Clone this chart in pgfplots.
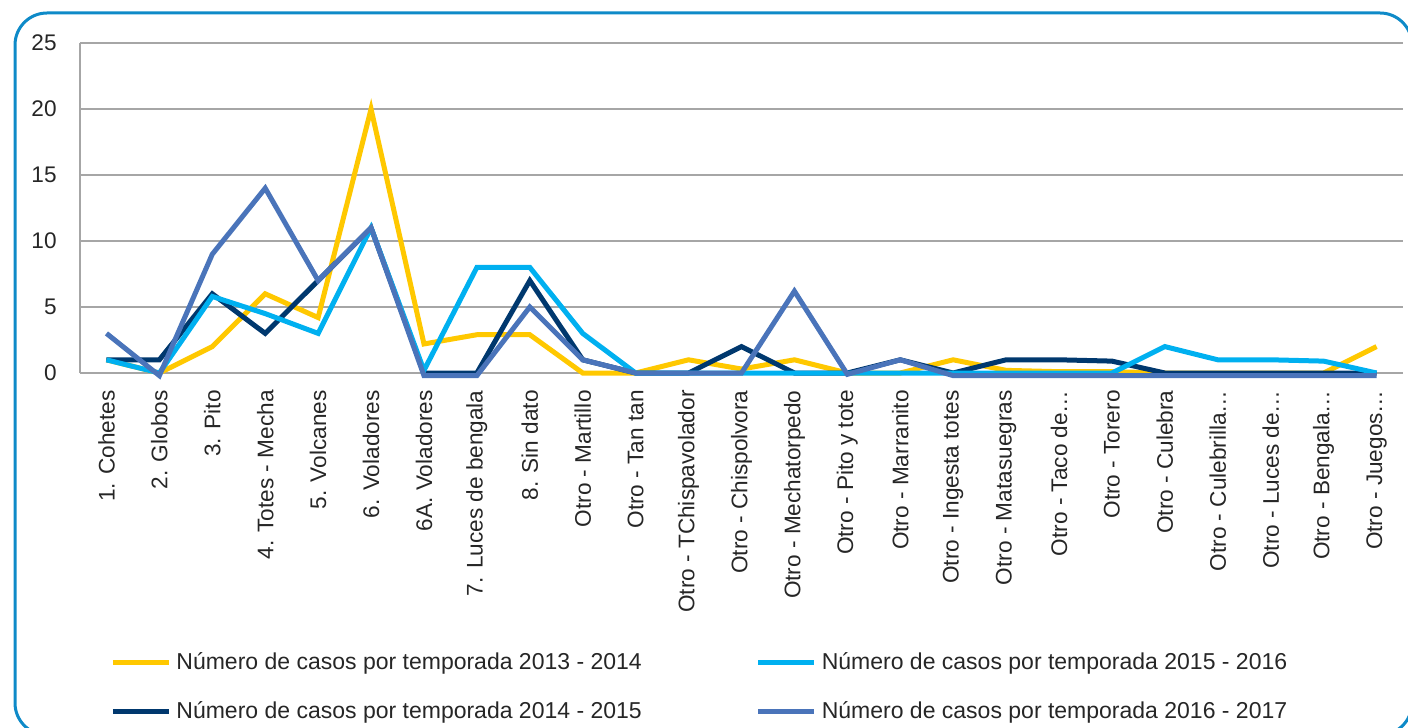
\documentclass[border=0pt]{standalone}
\usepackage{pgfplots}
\pgfplotsset{compat=1.18}
\usepackage{fontspec}
\setmainfont{Liberation Sans}
\definecolor{cYel}{RGB}{255,200,0}
\definecolor{cLight}{RGB}{0,176,240}
\definecolor{cNavy}{RGB}{0,56,110}
\definecolor{cSlate}{RGB}{74,116,186}
\definecolor{cFrame}{RGB}{14,138,200}
\definecolor{cGrid}{RGB}{166,166,166}
\begin{document}
\begin{tikzpicture}
\path[use as bounding box] (-40pt,-177.5pt) rectangle (664pt,186.5pt);
\draw[cFrame, line width=1.5pt, rounded corners=16pt] (-32.5pt,-181pt) rectangle (666pt,180pt);
\begin{axis}[
  scale only axis, width=661.5pt, height=165pt,
  xmin=-0.5, xmax=24.5, ymin=0, ymax=25,
  axis x line*=bottom, axis y line*=left,
  axis line style={cGrid, line width=0.9pt},
  ytick={0,5,...,25},
  ymajorgrids, grid style={cGrid, line width=0.9pt},
  xtick={0,...,24},
  xticklabels={1. Cohetes, 2. Globos, 3. Pito, 4. Totes - Mecha, 5. Volcanes, 6. Voladores, 6A. Voladores, 7. Luces de bengala, 8. Sin dato, Otro - Martillo, Otro - Tan tan, Otro - TChispavolador, Otro - Chispolvora, Otro - Mechatorpedo, Otro - Pito y tote, Otro - Marranito, Otro - Ingesta totes, Otro - Matasuegras, Otro - Taco de…, Otro - Torero, Otro - Culebra, Otro - Culebrilla…, Otro - Luces de…, Otro - Bengala…, Otro - Juegos…},
  major tick length=0pt,
  tick label style={font=\fontsize{11.3}{13}\selectfont, text=black!85},
  /pgf/number format/assume math mode=true,
  xticklabel style={rotate=90, anchor=east, inner sep=0pt},
  xticklabel shift=8.5pt,
  yticklabel style={inner sep=0pt, anchor=east},
  yticklabel shift=11.5pt,
  clip=false,
  legend image code/.code={\draw[#1] (0pt,0pt) -- (28pt,0pt);},
  legend columns=2,
  legend style={at={(0.0227,-0.845)}, anchor=north west, draw=none, fill=none,
    inner sep=0pt, font=\fontsize{11.5}{13}\selectfont, text=black!85,
    nodes={inner sep=0pt},
    row sep=14.5pt,
    /tikz/every odd column/.append style={column sep=2.5pt},
    /tikz/every even column/.append style={column sep=57pt}},
  legend cell align=left,
]
% 2013 - 2014
\addplot[cYel, line width=2.5pt, forget plot] coordinates {
(0,1)(1,0)(2,2)(3,6)(4,4.2)(5,20)(6,2.2)(7,2.9)(8,2.9)(9,0)(10,0)(11,1)(12,0.3)(13,1)(14,0)(15,0)(16,1)(17,0.2)(18,0.1)(19,0.1)(20,0)(21,0)(22,0)(23,0)(24,2)};
% 2014 - 2015
\addplot[cNavy, line width=2.5pt, forget plot] coordinates {
(0,1)(1,1)(2,6)(3,3)(4,7)(5,11)(6,0)(7,0)(8,7)(9,1)(10,0)(11,0)(12,2)(13,0)(14,0)(15,1)(16,0)(17,1)(18,1)(19,0.9)(20,0)(21,0)(22,0)(23,0)(24,0)};
% 2015 - 2016
\addplot[cLight, line width=2.5pt, forget plot] coordinates {
(0,1)(1,0)(2,5.8)(3,4.5)(4,3)(5,11)(6,0.2)(7,8)(8,8)(9,3)(10,0)(11,0)(12,0)(13,0)(14,0)(15,0)(16,0)(17,0)(18,0)(19,0)(20,2)(21,1)(22,1)(23,0.9)(24,0)};
% 2016 - 2017
\addplot[cSlate, line width=2.5pt, forget plot] coordinates {
(0,3)(1,-0.2)(2,9)(3,14)(4,7)(5,11)(6,-0.2)(7,-0.2)(8,5)(9,1)(10,0)(11,0)(12,0)(13,6.2)(14,-0.1)(15,1)(16,-0.2)(17,-0.2)(18,-0.2)(19,-0.2)(20,-0.2)(21,-0.2)(22,-0.2)(23,-0.2)(24,-0.2)};
\addlegendimage{cYel, line width=2.5pt}
\addlegendentry{Número de casos por temporada 2013 - 2014}
\addlegendimage{cLight, line width=2.5pt}
\addlegendentry{Número de casos por temporada 2015 - 2016}
\addlegendimage{cNavy, line width=2.5pt}
\addlegendentry{Número de casos por temporada 2014 - 2015}
\addlegendimage{cSlate, line width=2.5pt}
\addlegendentry{Número de casos por temporada 2016 - 2017}
\end{axis}
\end{tikzpicture}
\end{document}
